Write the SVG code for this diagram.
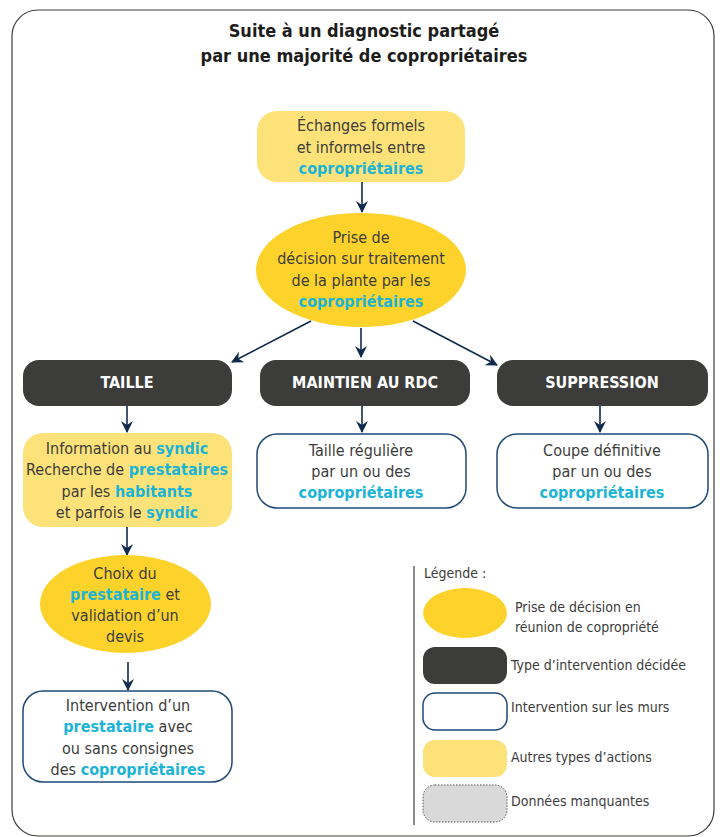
<svg xmlns="http://www.w3.org/2000/svg" width="722" height="837" viewBox="0 0 722 837">
<style>
text{font-family:"Liberation Sans Narrow","DejaVu Sans Condensed","Open Sans",sans-serif;font-size:16px;fill:#3c3c3b;text-anchor:middle}
.t{font-size:18px;font-weight:bold;fill:#1d1d1b}
.c{fill:#1bb4d6;font-weight:bold}
.w{fill:#ffffff;font-weight:bold}
.l{text-anchor:start;font-size:14px}
.dec{fill:#fdd32b}
.act{fill:#fde27a}
.typ{fill:#3c3c3b}
.mur{fill:#ffffff;stroke:#1e4a78;stroke-width:1.5}
.na{fill:#d9d9d9;stroke:#555;stroke-width:1;stroke-dasharray:1.5 1.5}
.ar{stroke:#0f2a4c;stroke-width:1.6;fill:none;marker-end:url(#ah)}
</style>
<defs>
<marker id="ah" viewBox="0 0 12 12" refX="11" refY="6" markerWidth="12" markerHeight="12" markerUnits="userSpaceOnUse" orient="auto">
<path d="M0,0 L12,6 L0,12 L4,6 z" fill="#0f2a4c"/>
</marker>
</defs>
<rect x="12" y="10" width="702" height="826" rx="26" fill="#fff" stroke="#3c3c3b" stroke-width="1.2"/>
<g id="title">
<text class="t" x="364" y="37">Suite à un diagnostic partagé</text>
<text class="t" x="364" y="62">par une majorité de copropriétaires</text>
</g>
<g id="connectors">
<line class="ar" x1="362" y1="182" x2="362" y2="212"/>
<line class="ar" x1="311" y1="321" x2="232" y2="362"/>
<line class="ar" x1="361" y1="328" x2="361" y2="357"/>
<line class="ar" x1="413" y1="321" x2="497" y2="365"/>
<line class="ar" x1="127" y1="406" x2="127" y2="432"/>
<line class="ar" x1="362" y1="406" x2="362" y2="432"/>
<line class="ar" x1="600" y1="406" x2="600" y2="432"/>
<line class="ar" x1="127" y1="527" x2="127" y2="555"/>
<line class="ar" x1="128" y1="662" x2="128" y2="690"/>
</g>
<g id="echanges">
<rect class="act" x="257" y="111" width="208" height="71" rx="20"/>
<text x="361" y="131">Échanges formels</text>
<text x="361" y="153">et informels entre</text>
<text x="361" y="174" class="c">copropriétaires</text>
</g>
<g id="prise">
<ellipse class="dec" cx="361" cy="270" rx="105" ry="57"/>
<text x="361" y="243">Prise de</text>
<text x="361" y="264">décision sur traitement</text>
<text x="361" y="286">de la plante par les</text>
<text x="361" y="307" class="c">copropriétaires</text>
</g>
<g id="taille">
<rect class="typ" x="23" y="360" width="209" height="46" rx="16"/>
<text x="127" y="388" class="w">TAILLE</text>
</g>
<g id="maintien">
<rect class="typ" x="260" y="360" width="210" height="46" rx="16"/>
<text x="365" y="388" class="w">MAINTIEN AU RDC</text>
</g>
<g id="suppression">
<rect class="typ" x="497" y="360" width="211" height="46" rx="16"/>
<text x="602" y="388" class="w">SUPPRESSION</text>
</g>
<g id="information">
<rect class="act" x="23" y="433" width="209" height="94" rx="20"/>
<text x="127" y="454">Information au <tspan class="c">syndic</tspan></text>
<text x="127" y="475">Recherche de <tspan class="c">prestataires</tspan></text>
<text x="127" y="497">par les <tspan class="c">habitants</tspan></text>
<text x="127" y="518">et parfois le <tspan class="c">syndic</tspan></text>
</g>
<g id="taille-reguliere">
<rect class="mur" x="257" y="434" width="209" height="74" rx="20"/>
<text x="361" y="456">Taille régulière</text>
<text x="361" y="477">par un ou des</text>
<text x="361" y="498" class="c">copropriétaires</text>
</g>
<g id="coupe">
<rect class="mur" x="497" y="434" width="211" height="74" rx="20"/>
<text x="602" y="456">Coupe définitive</text>
<text x="602" y="477">par un ou des</text>
<text x="602" y="498" class="c">copropriétaires</text>
</g>
<g id="choix">
<ellipse class="dec" cx="125.5" cy="604" rx="85.5" ry="49"/>
<text x="125" y="579">Choix du</text>
<text x="125" y="600"><tspan class="c">prestataire</tspan> et</text>
<text x="125" y="621">validation d’un</text>
<text x="125" y="642">devis</text>
</g>
<g id="intervention">
<rect class="mur" x="23" y="691" width="209" height="91" rx="20"/>
<text x="128" y="711">Intervention d’un</text>
<text x="128" y="732"><tspan class="c">prestataire</tspan> avec</text>
<text x="128" y="754">ou sans consignes</text>
<text x="128" y="775">des <tspan class="c">copropriétaires</tspan></text>
</g>
<g id="legende">
<line x1="414" y1="566" x2="414" y2="825" stroke="#666" stroke-width="1.5"/>
<text class="l" x="424" y="578">Légende :</text>
<ellipse class="dec" cx="465" cy="613" rx="42" ry="25"/>
<text class="l" x="515" y="612">Prise de décision en</text>
<text class="l" x="515" y="632">réunion de copropriété</text>
<rect class="typ" x="423" y="647" width="84" height="37" rx="12"/>
<text class="l" x="511" y="670">Type d’intervention décidée</text>
<rect class="mur" x="423" y="693" width="84" height="37" rx="12"/>
<text class="l" x="511" y="712">Intervention sur les murs</text>
<rect class="act" x="423" y="740" width="84" height="37" rx="12"/>
<text class="l" x="511" y="762">Autres types d’actions</text>
<rect class="na" x="423" y="785" width="84" height="37" rx="12"/>
<text class="l" x="511" y="806">Données manquantes</text>
</g>
</svg>
